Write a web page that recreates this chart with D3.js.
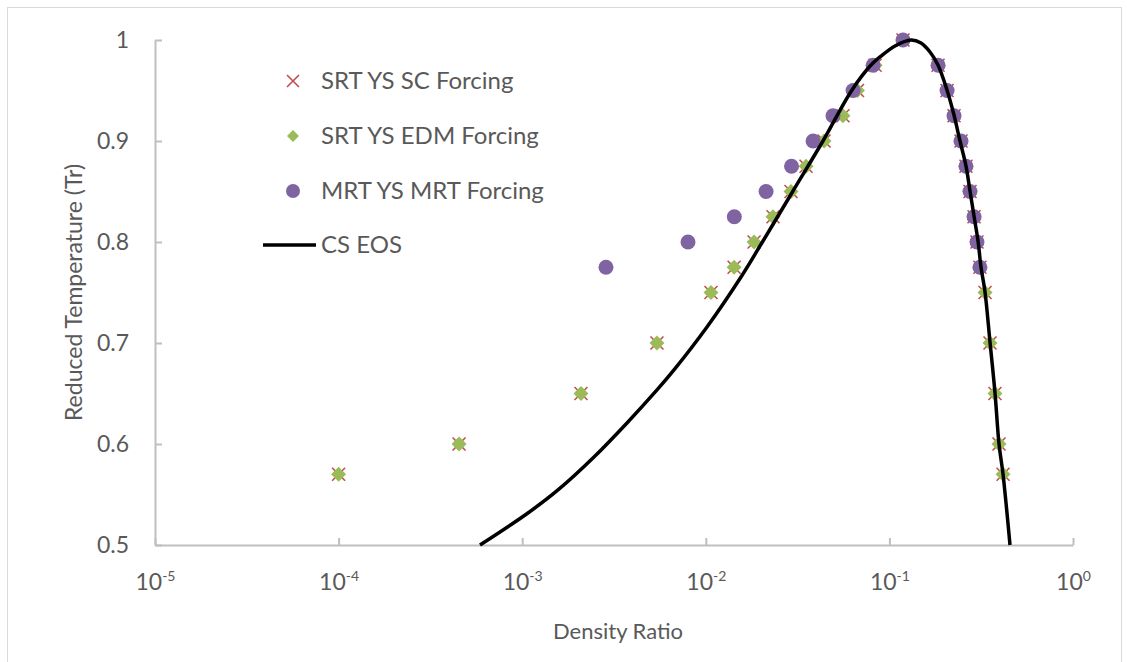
<!DOCTYPE html>
<html>
<head>
<meta charset="utf-8">
<script src="https://cdn.jsdelivr.net/npm/d3@7"></script>
<style>
  body { margin: 0; background: #fff; }
  text { font-family: Lato, "Open Sans", sans-serif; fill: #595959; }
</style>
</head>
<body>
<div id="my_dataviz"></div>
<script>

var width  = 1127;
var height = 662;

// SRT YS SC / EDM forcing (two branches of the coexistence curve)
var srtTemp      = [0.57, 0.60, 0.65, 0.70, 0.75, 0.775, 0.80, 0.825, 0.85, 0.875, 0.90, 0.925, 0.95, 0.975, 1.0,
                    0.975, 0.95, 0.925, 0.90, 0.875, 0.85, 0.825, 0.80, 0.775, 0.75, 0.70, 0.65, 0.60, 0.57];
var srtScDensity = [1.0e-4, 4.53e-4, 2.09e-3, 5.42e-3, 1.067e-2, 1.426e-2, 1.832e-2, 2.323e-2, 2.911e-2, 3.516e-2, 4.406e-2, 5.585e-2, 6.70e-2, 8.36e-2, 0.1186,
                    0.1841, 0.2061, 0.2249, 0.2455, 0.2612, 0.2748, 0.2891, 0.2999, 0.3112, 0.3319, 0.3532, 0.3758, 0.3954, 0.4159];
var srtEdmDensity = [1.0e-4, 4.53e-4, 2.09e-3, 5.42e-3, 1.067e-2, 1.426e-2, 1.832e-2, 2.323e-2, 2.911e-2, 3.516e-2, 4.406e-2, 5.585e-2, 6.70e-2, 8.36e-2, 0.1186,
                    0.1841, 0.2061, 0.2249, 0.2455, 0.2612, 0.2748, 0.2891, 0.2999, 0.3112, 0.3319, 0.3532, 0.3758, 0.3954, 0.4159];

// MRT YS MRT forcing
var mrtTemp    = [0.775, 0.80, 0.825, 0.85, 0.875, 0.90, 0.925, 0.95, 0.975, 1.0,
                  0.975, 0.95, 0.925, 0.90, 0.875, 0.85, 0.825, 0.80, 0.775];
var mrtDensity = [2.86e-3, 8.0e-3, 1.43e-2, 2.13e-2, 2.93e-2, 3.84e-2, 4.93e-2, 6.34e-2, 8.15e-2, 0.1186,
                  0.1841, 0.2061, 0.2249, 0.2455, 0.2612, 0.2748, 0.2891, 0.2999, 0.3112];

// CS EOS curve
var eosDensity = [5.89e-4, 1.075e-3, 1.567e-3, 2.461e-3, 3.722e-3, 5.423e-3, 6.710e-3, 1.015e-2, 1.555e-2, 2.049e-2,
                  2.985e-2, 4.347e-2, 6.255e-2, 7.940e-2, 8.888e-2, 0.1073, 0.1311,
                  0.1486, 0.1664, 0.1839, 0.2059, 0.2248, 0.2424, 0.2614, 0.2748, 0.2889, 0.3039, 0.3154,
                  0.3317, 0.3531, 0.3760, 0.3954, 0.4157, 0.4538];
var eosTemp    = [0.5, 0.5317, 0.5545, 0.5871, 0.6208, 0.6535, 0.6733, 0.7158, 0.7653, 0.8010,
                  0.8505, 0.9000, 0.9505, 0.9752, 0.9832, 0.9941, 1.0,
                  0.9970, 0.9881, 0.9752, 0.9505, 0.9257, 0.9000, 0.8752, 0.8505, 0.8257, 0.8010, 0.7752,
                  0.7505, 0.7010, 0.6505, 0.6000, 0.5703, 0.5];

var xTicks = [1e-5, 1e-4, 1e-3, 1e-2, 1e-1, 1];
var yTicks = [0.5, 0.6, 0.7, 0.8, 0.9, 1];

var legendNames = ["SRT YS SC Forcing", "SRT YS EDM Forcing", "MRT YS MRT Forcing", "CS EOS"];

var red    = "#C0504D";
var green  = "#9BBB59";
var purple = "#8064A2";
var axisGrey = "#BFBFBF";

var margin = {left: 155, right: 54, top: 40, bottom: 117};

var svg = d3.select("#my_dataviz")
  .append("svg")
    .attr("width", width)
    .attr("height", height);

// outer chart border
svg.append("rect")
  .attr("x", 7.5).attr("y", 7.5)
  .attr("width", 1114).attr("height", 670)
  .style("fill", "none").style("stroke", "#D9D9D9").style("stroke-width", 1);

var x = d3.scaleLog()
  .domain([1e-5, 1])
  .range([margin.left, width - margin.right]);

var y = d3.scaleLinear()
  .domain([0.5, 1])
  .range([height - margin.bottom, margin.top]);

// y axis, ticks pointing inward
var yAxis = svg.append("g")
  .attr("transform", "translate(" + margin.left + ",0)")
  .call(d3.axisLeft(y).tickValues(yTicks).tickSize(-7).tickSizeOuter(0).tickPadding(26)
        .tickFormat(function(d){ return d === 1 ? "1" : d3.format(".1f")(d); }));
yAxis.select(".domain").style("stroke", axisGrey).style("stroke-width", 2);
yAxis.selectAll(".tick line").style("stroke", axisGrey).style("stroke-width", 2);
yAxis.selectAll("text").style("font-size", "23px").style("fill", "#595959").style("font-family", "Lato");

// x axis
var xAxis = svg.append("g")
  .attr("transform", "translate(0," + (height - margin.bottom) + ")")
  .call(d3.axisBottom(x).tickValues(xTicks).tickSize(-7).tickSizeOuter(0).tickFormat(""));
xAxis.select(".domain").style("stroke", axisGrey).style("stroke-width", 2);
xAxis.selectAll(".tick line").style("stroke", axisGrey).style("stroke-width", 2);

xAxis.selectAll(".tick").each(function(d) {
  var t = d3.select(this).select("text")
    .attr("y", 45).attr("dy", 0)
    .attr("text-anchor", "middle")
    .style("font-size", "23px").style("fill", "#595959").style("font-family", "Lato");
  t.append("tspan").text("10");
  t.append("tspan").attr("dy", -9).style("font-size", "14px").text(Math.round(Math.log10(d)));
});

// axis titles
svg.append("text")
  .attr("text-anchor", "middle")
  .attr("x", (x.range()[0] + x.range()[1]) / 2 + 4)
  .attr("y", 639)
  .style("font-size", "22px")
  .text("Density Ratio");

svg.append("text")
  .attr("text-anchor", "middle")
  .attr("transform", "translate(82," + ((y.range()[0] + y.range()[1]) / 2) + ") rotate(-90)")
  .style("font-size", "23px")
  .text("Reduced Temperature (Tr)");

// series data as point lists
var srtSc  = srtTemp.map(function(t, i){ return {t: t, r: srtScDensity[i]}; });
var srtEdm = srtTemp.map(function(t, i){ return {t: t, r: srtEdmDensity[i]}; });
var mrt    = mrtTemp.map(function(t, i){ return {t: t, r: mrtDensity[i]}; });
var eos    = eosTemp.map(function(t, i){ return {t: t, r: eosDensity[i]}; });

// red crosses
var cross = svg.append("g").selectAll("g.cross")
  .data(srtSc).enter().append("g")
    .attr("transform", function(d){ return "translate(" + x(d.r) + "," + y(d.t) + ")"; });
cross.append("path")
  .attr("d", "M-6.5,-6.5L6.5,6.5M-6.5,6.5L6.5,-6.5")
  .style("stroke", red).style("stroke-width", 1.6).style("fill", "none");

// green diamonds
svg.append("g").selectAll("path")
  .data(srtEdm).enter().append("path")
    .attr("d", d3.symbol().type(d3.symbolSquare).size(112))
    .attr("transform", function(d){ return "translate(" + x(d.r) + "," + y(d.t) + ") rotate(45)"; })
    .style("fill", green);

// purple circles
svg.append("g").selectAll("circle")
  .data(mrt).enter().append("circle")
    .attr("cx", function(d){ return x(d.r); })
    .attr("cy", function(d){ return y(d.t); })
    .attr("r", 7.5)
    .style("fill", purple);

// CS EOS line
var line = d3.line()
  .x(function(d){ return x(d.r); })
  .y(function(d){ return y(d.t); })
  .curve(d3.curveCatmullRom.alpha(0.5));

svg.append("path")
  .datum(eos)
  .attr("d", line)
  .style("fill", "none")
  .style("stroke", "black")
  .style("stroke-width", 3.5);

// legend
var lg = svg.append("g");
var rowY = [81, 136, 191, 245];

lg.append("path")
  .attr("d", "M287,75L299,87M287,87L299,75")
  .style("stroke", red).style("stroke-width", 1.6);
lg.append("path")
  .attr("d", d3.symbol().type(d3.symbolSquare).size(72))
  .attr("transform", "translate(293,136) rotate(45)")
  .style("fill", green);
lg.append("circle")
  .attr("cx", 293).attr("cy", 191).attr("r", 7)
  .style("fill", purple);
lg.append("line")
  .attr("x1", 263).attr("x2", 316).attr("y1", 245).attr("y2", 245)
  .style("stroke", "black").style("stroke-width", 3.5);

lg.selectAll("text")
  .data(legendNames)
  .enter()
  .append("text")
    .attr("x", 321)
    .attr("y", function(d, i){ return rowY[i]; })
    .attr("dy", "0.35em")
    .style("font-size", "24px")
    .text(function(d){ return d; });

</script>
</body>
</html>
